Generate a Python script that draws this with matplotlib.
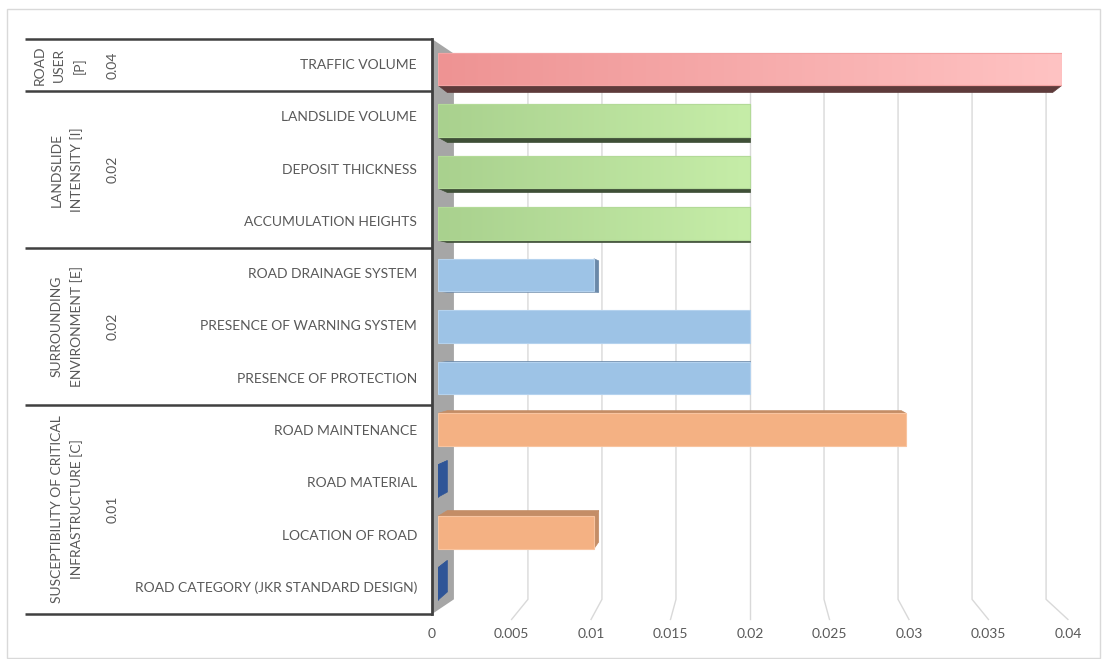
import numpy as np
import matplotlib
matplotlib.use("Agg")
import matplotlib.pyplot as plt
from matplotlib.patches import Polygon, Rectangle
from matplotlib.colors import LinearSegmentedColormap

# ---- data ----
criteria = ['TRAFFIC VOLUME', 'LANDSLIDE VOLUME', 'DEPOSIT THICKNESS', 'ACCUMULATION HEIGHTS',
            'ROAD DRAINAGE SYSTEM', 'PRESENCE OF WARNING SYSTEM', 'PRESENCE OF PROTECTION',
            'ROAD MAINTENANCE', 'ROAD MATERIAL', 'LOCATION OF ROAD',
            'ROAD CATEGORY (JKR STANDARD DESIGN)']
values = [0.04, 0.02, 0.02, 0.02, 0.01, 0.02, 0.02, 0.03, 0.0, 0.01, 0.0]
groups = ['ROAD\nUSER\n[P]', 'LANDSLIDE\nINTENSITY [I]', 'SURROUNDING\nENVIRONMENT [E]',
          'SUSCEPTIBILITY OF CRITICAL\nINFRASTRUCTURE [C]']
group_sizes = [1, 3, 3, 4]
group_weights = ['0.04', '0.02', '0.02', '0.01']
xticks = [0, 0.005, 0.01, 0.015, 0.02, 0.025, 0.03, 0.035, 0.04]
xticklabels = ['0', '0.005', '0.01', '0.015', '0.02', '0.025', '0.03', '0.035', '0.04']

# ---- styles (per group) ----
styles = [
    dict(face=('#EE9393', '#FFC3C3'), edge='#F3A3A3', cap='#5E3B3B'),
    dict(face=('#A9D18E', '#C6EDA8'), edge='#B3DA98', cap='#3F4F37'),
    dict(face=('#9DC3E6', '#9DC3E6'), edge='#B4D2EE', cap='#6A88A8'),
    dict(face=('#F4B183', '#F4B183'), edge='#F8C4A0', cap='#C48D66'),
]
zero_color = '#2F5597'
text_color = '#595959'
grid_color = '#D9D9D9'
line_color = '#404040'

plt.rcParams['font.family'] = ['Lato', 'DejaVu Sans']

W, H = 1102, 659
fig = plt.figure(figsize=(W / 100, H / 100), dpi=100)
top_px, bot_px = 39, 614
x0_px, x1_px = 438, 1062
n = len(criteria)

ax = fig.add_axes([x0_px / W, 1 - bot_px / H, (x1_px - x0_px) / W, (bot_px - top_px) / H])
lab = fig.add_axes([0, 1 - bot_px / H, x0_px / W, (bot_px - top_px) / H])

# simple perspective around the middle of the plot
cx, cy = (xticks[0] + xticks[-1]) / 2, (n - 1) / 2
S_FLOOR, S_BACK, S_BAR, S_BAR_BACK = 1.019, 0.949, 0.985, 0.97


def persp(x, y, s):
    return cx + s * (x - cx), cy + s * (y - cy)


# back wall
xf0 = persp(0, 0, S_FLOOR)[0]
wall = Polygon([(xf0, -0.5), persp(0, -0.5, S_BACK), persp(0, n - 0.5, S_BACK), (xf0, n - 0.5)],
               closed=True, fc='#A6A6A6', ec='none', zorder=1, clip_on=False)
ax.add_patch(wall)

# gridlines: back wall, then slanted across the floor
for v, t in zip(xticks, xticklabels):
    bt = persp(v, -0.5, S_BACK)
    bb = persp(v, n - 0.5, S_BACK)
    ff = persp(v, n - 0.5, S_FLOOR)
    if v > 0:
        ax.plot([bt[0], bb[0], ff[0]], [bt[1], bb[1], ff[1]], color=grid_color, lw=1,
                zorder=0.5, clip_on=False)
    ax.text(ff[0], n - 0.5 + 0.38, t, ha='center', va='center', fontsize=10, color=text_color)

# bars
group_of = np.repeat(np.arange(len(groups)), group_sizes)
ys = [cy + S_BAR * (i - cy) for i in range(n)]
faces, edges = [], []
for v, g in zip(values, group_of):
    faces.append(styles[g]['face'][0] if v > 0 else zero_color)
    edges.append(styles[g]['edge'] if v > 0 else zero_color)
bars = ax.barh(ys, values, height=0.62, color=faces, edgecolor=edges, linewidth=0.8, zorder=4)

for b, v, g in zip(bars, values, group_of):
    st = styles[g]
    x0, y0 = b.get_x(), b.get_y()
    x1, y1 = x0 + b.get_width(), y0 + b.get_height()
    cap = st['cap'] if v > 0 else zero_color
    P = lambda x, y: persp(x, y, S_BAR_BACK)
    polys = []
    if y0 > cy:
        polys.append([(x0, y0), (x1, y0), P(x1, y0), P(x0, y0)])
    if y1 < cy:
        polys.append([(x0, y1), (x1, y1), P(x1, y1), P(x0, y1)])
    if x1 < cx:
        polys.append([(x1, y0), (x1, y1), P(x1, y1), P(x1, y0)])
    for pts in polys:
        ax.add_patch(Polygon(pts, closed=True, fc=cap, ec=cap, lw=0.5, zorder=3))
    if v > 0 and st['face'][0] != st['face'][1]:
        cmap = LinearSegmentedColormap.from_list('g', st['face'])
        im = ax.imshow(np.linspace(0, 1, 256)[None, :], extent=(x0, x1, y1, y0), cmap=cmap,
                       aspect='auto', zorder=4.2)
        im.set_clip_path(b)
        ax.add_patch(Rectangle((x0, y0), x1 - x0, y1 - y0, fill=False, ec=st['edge'],
                               lw=0.8, zorder=4.5))

ax.set_xlim(xticks[0], xticks[-1])
ax.set_ylim(n - 0.5, -0.5)
ax.axis('off')

# ---- category table on the left ----
lab.set_xlim(0, x0_px)
lab.set_ylim(n - 0.5, -0.5)
lab.axis('off')

bounds = np.concatenate([[0], np.cumsum(group_sizes)]) - 0.5
for yb in bounds:
    lab.plot([25, 432], [yb, yb], color=line_color, lw=1.8, solid_capstyle='butt', clip_on=False)
lab.plot([432, 432], [bounds[0], bounds[-1]], color=line_color, lw=2, clip_on=False)

for i, name in enumerate(criteria):
    lab.text(417, i, name, ha='right', va='center', fontsize=10, color=text_color)

for gname, w, a, b in zip(groups, group_weights, bounds[:-1], bounds[1:]):
    mid = (a + b) / 2
    gx = 60 if gname.count('\n') == 2 else 67
    lab.text(gx, mid, gname, rotation=90, ha='center', va='center', multialignment='center',
             fontsize=10, color=text_color, linespacing=1.7)
    lab.text(113, mid, w, rotation=90, ha='center', va='center', fontsize=10, color=text_color)

# outer chart border
fig.add_artist(Rectangle((7 / W, 1 - 658 / H), (1100 - 7) / W, (658 - 9) / H,
                         transform=fig.transFigure, fill=False, ec='#D9D9D9', lw=1))

fig.savefig('out.png', dpi=100)
